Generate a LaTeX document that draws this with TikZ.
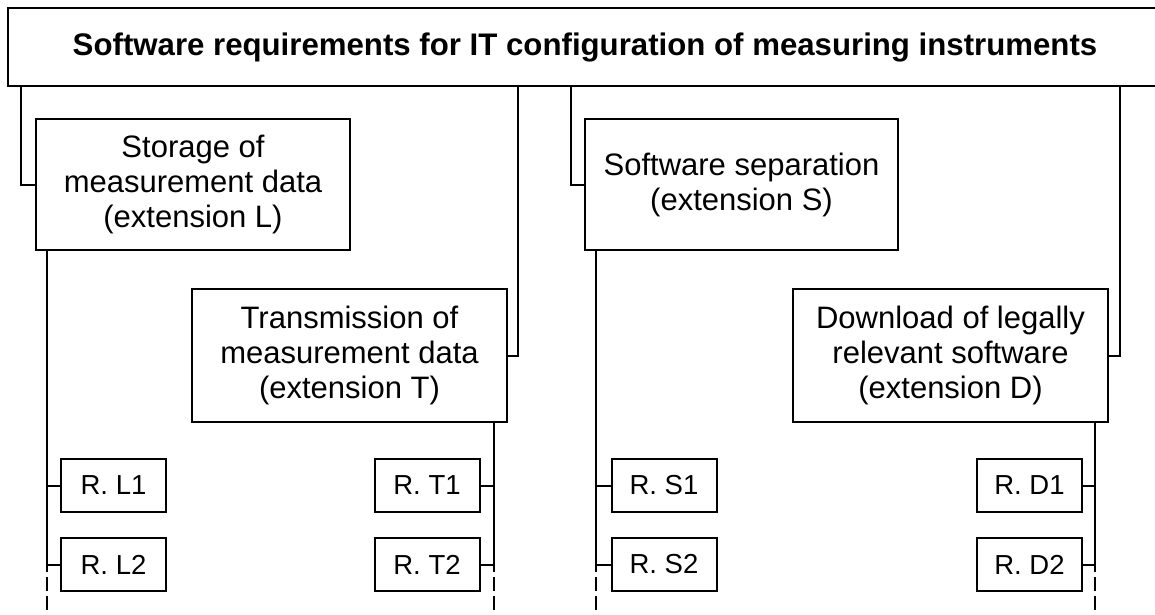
\documentclass[tikz,border=0pt]{standalone}
\usepackage{fontspec}
\setmainfont{Liberation Sans}
\begin{document}
\begin{tikzpicture}[x=1pt,y=-1pt,
  line width=2pt,
  titlebox/.style={draw, line width=2pt, inner sep=0pt, minimum width=1154pt, minimum height=78pt,
    font=\bfseries\fontsize{31.2}{36}\selectfont},
  extbox/.style={draw, line width=2pt, align=center, inner sep=0pt,
    font=\fontsize{31}{35}\selectfont},
  rbox/.style={draw, line width=2pt, minimum width=105pt, minimum height=53pt, inner sep=0pt,
    font=\fontsize{27.5}{30}\selectfont},
  conn/.style={line width=2pt},
  cont/.style={line width=2pt, dash pattern=on 14pt off 5pt, dash phase=14pt}]
\useasboundingbox (0,0) rectangle (1155,614);

\node[titlebox] (top) at (585,47) {Software requirements for IT configuration of measuring instruments};

\node[extbox, minimum width=314pt, minimum height=131pt] (stor) at (193,184.5)
  {Storage of\\measurement data\\(extension L)};
\node[extbox, minimum width=315pt, minimum height=133pt] (trans) at (349.5,355.5)
  {Transmission of\\measurement data\\(extension T)};
\node[extbox, minimum width=313pt, minimum height=131pt] (sep) at (741.5,184.5)
  {Software separation\\(extension S)};
\node[extbox, minimum width=315pt, minimum height=133pt] (down) at (950.5,355.5)
  {Download of legally\\relevant software\\(extension D)};

\node[rbox] (rl1) at (113.5,485.5) {R. L1};
\node[rbox] (rl2) at (113.5,564.5) {R. L2};
\node[rbox] (rt1) at (427,485.5) {R. T1};
\node[rbox] (rt2) at (427,564.5) {R. T2};
\node[rbox] (rs1) at (664,485.5) {R. S1};
\node[rbox] (rs2) at (664,564.5) {R. S2};
\node[rbox] (rd1) at (1029.5,485.5) {R. D1};
\node[rbox] (rd2) at (1029.5,564.5) {R. D2};

% connectors from the title box
\draw[conn] ([xshift=14pt]top.south west) |- (stor.west);
\draw[conn] ([xshift=511pt]top.south west) |- (trans.east);
\draw[conn] ([xshift=564pt]top.south west) |- (sep.west);
\draw[conn] ([xshift=1113pt]top.south west) |- (down.east);

% vertical spines
\coordinate (Lt) at ([xshift=12pt]stor.south west);
\coordinate (Tt) at ([xshift=-14pt]trans.south east);
\coordinate (St) at ([xshift=12pt]sep.south west);
\coordinate (Dt) at ([xshift=-14pt]down.south east);

\coordinate (Lm) at (Lt |- 0,572);
\coordinate (Tm) at (Tt |- 0,572);
\coordinate (Sm) at (St |- 0,572);
\coordinate (Dm) at (Dt |- 0,572);
\coordinate (Lb) at (Lt |- 0,616);
\coordinate (Tb) at (Tt |- 0,616);
\coordinate (Sb) at (St |- 0,616);
\coordinate (Db) at (Dt |- 0,616);

\draw[conn] (Lt) -- (Lm);
\draw[conn] (Tt) -- (Tm);
\draw[conn] (St) -- (Sm);
\draw[conn] (Dt) -- (Dm);
\draw[cont] (Lm) -- (Lb);
\draw[cont] (Tm) -- (Tb);
\draw[cont] (Sm) -- (Sb);
\draw[cont] (Dm) -- (Db);

% stubs
\draw[conn] (rl1.west) -- (rl1.west -| Lt);
\draw[conn] (rl2.west) -- (rl2.west -| Lt);
\draw[conn] (rt1.east) -- (rt1.east -| Tt);
\draw[conn] (rt2.east) -- (rt2.east -| Tt);
\draw[conn] (rs1.west) -- (rs1.west -| St);
\draw[conn] (rs2.west) -- (rs2.west -| St);
\draw[conn] (rd1.east) -- (rd1.east -| Dt);
\draw[conn] (rd2.east) -- (rd2.east -| Dt);
\end{tikzpicture}
\end{document}
